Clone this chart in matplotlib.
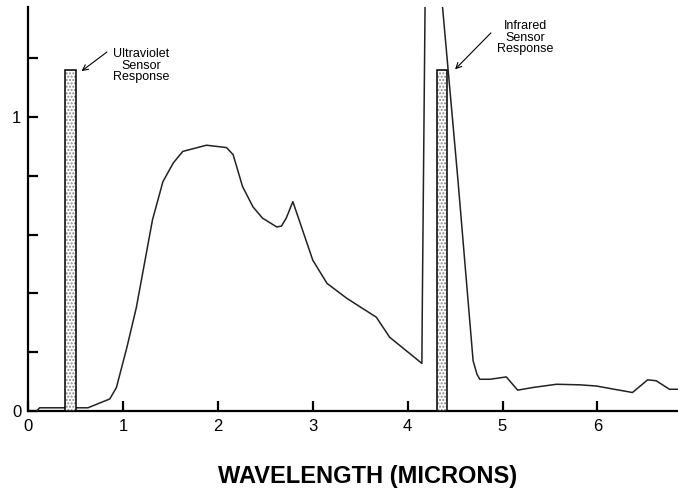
import numpy as np
import matplotlib.pyplot as plt

plt.rcParams['font.family'] = ['Liberation Sans', 'DejaVu Sans']

# solar spectrum curve (wavelength in microns, relative intensity)
wl = [0.09, 0.12, 0.63, 0.86, 0.93, 1.04, 1.14, 1.31, 1.42, 1.53, 1.63,
      1.88, 2.09, 2.16, 2.26, 2.37, 2.47, 2.62, 2.67, 2.72, 2.79, 3.00,
      3.15, 3.36, 3.67, 3.81, 4.15, 4.155, 4.20, 4.36, 4.53, 4.69, 4.73,
      4.76, 4.87, 5.04, 5.16, 5.32, 5.57, 5.82, 5.99, 6.16, 6.37, 6.53,
      6.62, 6.76, 6.85]
intens = [0.0, 0.011, 0.011, 0.041, 0.08, 0.216, 0.352, 0.65, 0.78, 0.844,
          0.883, 0.904, 0.896, 0.872, 0.763, 0.694, 0.656, 0.626, 0.629,
          0.656, 0.712, 0.513, 0.434, 0.383, 0.319, 0.251, 0.162, 0.376,
          1.955, 1.402, 0.786, 0.171, 0.126, 0.108, 0.108, 0.116, 0.071,
          0.08, 0.091, 0.089, 0.085, 0.075, 0.063, 0.106, 0.103, 0.074,
          0.074]

# sensor bands
band_left = [0.39, 4.31]
band_width = [0.11, 0.11]
band_height = [1.16, 1.16]

fig = plt.figure(figsize=(6.78, 5.01), dpi=100)
ax = fig.add_axes([0.0416, 0.1796, 0.9584, 0.807])

ax.plot(wl, intens, color='#222222', lw=1.1, zorder=3)

# dotted fill then black outline
ax.bar(band_left, band_height, width=band_width, align='edge',
       color='white', edgecolor='#888888', hatch='.....', lw=0, zorder=4)
ax.bar(band_left, band_height, width=band_width, align='edge',
       fill=False, edgecolor='black', lw=1.1, zorder=5)

# labels and arrows
ax.text(1.19, 1.175, 'Ultraviolet\nSensor\nResponse', ha='center', va='center',
        fontsize=9, linespacing=0.95)
ax.annotate('', xy=(0.562, 1.156), xytext=(0.83, 1.221),
            arrowprops=dict(arrowstyle='->', color='black', lw=0.8,
                            shrinkA=0, shrinkB=0))
ax.text(5.24, 1.269, 'Infrared\nSensor\nResponse', ha='center', va='center',
        fontsize=9, linespacing=0.95)
ax.annotate('', xy=(4.50, 1.162), xytext=(4.878, 1.286),
            arrowprops=dict(arrowstyle='->', color='black', lw=0.8,
                            shrinkA=0, shrinkB=0))

ax.set_xlim(0, 6.85)
ax.set_ylim(0, 1.375)
ax.set_xticks(np.arange(0, 7, 1))
ax.set_yticks(np.arange(0, 1.3, 0.2))
ax.set_yticklabels(['0', '', '', '', '', '1', ''])
ax.tick_params(direction='in', length=7, width=1.6, labelsize=12, pad=6)
ax.tick_params(axis='y', pad=5)

for s in ['top', 'right']:
    ax.spines[s].set_visible(False)
for s in ['left', 'bottom']:
    ax.spines[s].set_linewidth(1.6)

ax.text(0.523, -0.178, 'WAVELENGTH (MICRONS)', transform=ax.transAxes,
        ha='center', va='baseline', fontsize=17, fontweight='bold')

fig.savefig('out.png', dpi=100)
